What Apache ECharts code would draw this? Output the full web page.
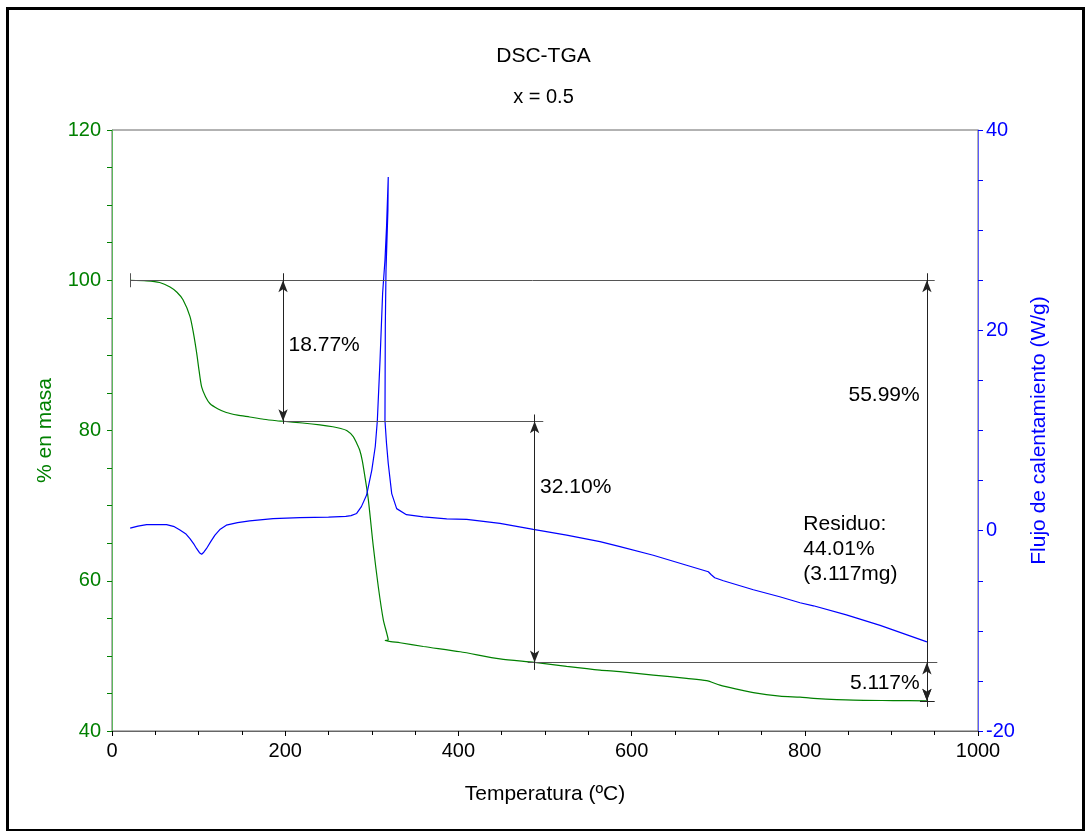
<!DOCTYPE html>
<html>
<head>
<meta charset="utf-8">
<title>DSC-TGA</title>
<script src="https://cdn.jsdelivr.net/npm/echarts@6/dist/echarts.min.js"></script>
<style>
  html, body { margin: 0; padding: 0; background: #ffffff; }
  #chart { width: 1087px; height: 831px; }
</style>
</head>
<body>
<div id="chart"></div>
<script>
// Thermogravimetric curve: temperature (ºC) and remaining mass (%)
const tgaTemp = [21, 40, 55, 67, 75, 82, 90, 94, 97.8, 100.5, 103.5, 108, 113, 122, 132, 145, 159, 175, 190, 197.5,
  220, 240, 255, 263, 271, 278.6, 282.6, 286, 289, 292, 296, 301.7, 307.5, 313.3, 319, 315.5, 322, 332.6, 359.5,
  402, 448, 488, 525, 563.5, 586.6, 625, 663.5, 686.6, 702, 720, 740.6, 771, 794.5, 810, 856, 902, 941];
const tgaMass = [100, 99.92, 99.7, 99.1, 98.4, 97.4, 95.2, 93.0, 90.3, 88.0, 85.8, 84.5, 83.6, 82.9, 82.4, 82.05, 81.8, 81.5, 81.3, 81.23,
  81.0, 80.75, 80.5, 80.3, 80.0, 79.2, 78.3, 77.4, 76.0, 73.9, 70.8, 64.6, 59.2, 54.8, 52.1, 52.05, 51.9, 51.75, 51.25,
  50.55, 49.6, 49.13, 48.6, 48.1, 47.9, 47.45, 47.0, 46.7, 46.1, 45.6, 45.1, 44.65, 44.5, 44.35, 44.1, 44.05, 44.01];

// Heat flow curve: temperature (ºC) and heat flow (W/g)
const dscTemp = [21, 30, 40, 63, 72, 78, 85, 90, 95, 97.8, 101, 103.5, 106, 109, 114, 118.9, 125, 132, 145, 159, 186, 217,
  250, 270, 276, 282.5, 288, 294, 300, 304, 306.4, 309.5, 312.5, 315.2, 317, 319, 318.6, 316.4, 315.6, 315.2, 317, 319,
  323, 328.7, 340, 359.5, 386.5, 409.6, 448, 486.5, 525, 563.5, 586.6, 625, 663.5, 688.6, 692, 696, 706, 740.6, 771,
  794.5, 810, 848, 887, 941];
const dscFlow = [0.25, 0.45, 0.6, 0.6, 0.4, 0.1, -0.3, -0.8, -1.4, -1.8, -2.2, -2.35, -2.15, -1.8, -1.1, -0.45, 0.15, 0.55, 0.8, 0.98, 1.2, 1.3,
  1.35, 1.42, 1.5, 1.72, 2.4, 3.55, 6.05, 8.4, 11.0, 17.0, 23.7, 27.0, 30.3, 35.3, 32.0, 26.0, 20.4, 11.0, 8.7, 6.7,
  3.7, 2.2, 1.6, 1.38, 1.18, 1.12, 0.72, 0.12, -0.45, -1.1, -1.6, -2.45, -3.45, -4.1, -4.4, -4.7, -5.0, -5.9, -6.6,
  -7.2, -7.5, -8.4, -9.45, -11.1];

// Mass-loss steps (%) and the temperatures where they are measured
const lossStep1 = 18.77;
const lossStep2 = 32.10;
const lossTotal = 55.99;
const lossStep3 = 5.117;
const residueMg = 3.117;
const tStart = 21, tStep1 = 197.5, tStep2 = 488, tEnd = 941;

// Axis ranges and tick spacing
const xRange = [0, 1000, 200];
const massRange = [40, 120, 20];
const flowRange = [-20, 40, 20];

const level0 = 100;
const level1 = +(level0 - lossStep1).toFixed(2);   // 81.23
const level2 = +(level1 - lossStep2).toFixed(2);   // 49.13
const residue = +(level0 - lossTotal).toFixed(2);  // 44.01

const GREEN = '#008000', BLUE = '#0000ff', INK = '#222222', GUIDE = '#555555';
const FONT = 'Liberation Sans, Arial, sans-serif';
const TXT = 21;

const zip = (a, b) => a.map((v, i) => [v, b[i]]);

// plain guide segment
function seg(x1, y1, x2, y2, color) {
  return [
    { coord: [x1, y1], symbol: 'none', lineStyle: { color: color || GUIDE } },
    { coord: [x2, y2], symbol: 'none' }
  ];
}
// double-headed dimension arrow
function arrow(x, y1, y2) {
  return [
    { coord: [x, y1], symbol: 'arrow', symbolSize: [7, 12], lineStyle: { color: INK } },
    { coord: [x, y2], symbol: 'arrow', symbolSize: [7, 12] }
  ];
}
function note(x, y, text, pos) {
  return {
    coord: [x, y], symbol: 'circle', symbolSize: 1,
    itemStyle: { color: 'rgba(0,0,0,0)' },
    label: { show: true, formatter: text, position: pos, distance: 5,
             color: '#000', fontSize: TXT, fontFamily: FONT, lineHeight: 25, align: pos === 'left' ? 'right' : 'left' }
  };
}

const chart = echarts.init(document.getElementById('chart'), null, { renderer: 'canvas' });

chart.setOption({
  animation: false,
  backgroundColor: '#ffffff',
  textStyle: { fontFamily: FONT },
  title: {
    text: 'DSC-TGA',
    subtext: 'x = 0.5',
    left: 'center',
    top: 41,
    itemGap: 20,
    textStyle: { fontSize: TXT, fontWeight: 'normal', color: '#000', fontFamily: FONT, lineHeight: 21 },
    subtextStyle: { fontSize: 20, color: '#000', fontFamily: FONT, lineHeight: 21 }
  },
  graphic: [{
    type: 'rect', left: 5, top: 6, silent: true,
    shape: { width: 1076, height: 822 },
    style: { fill: 'none', stroke: '#000', lineWidth: 3 }
  }],
  grid: { left: 112, right: 109, top: 130, bottom: 100, show: true, borderColor: '#666', borderWidth: 1, backgroundColor: 'transparent' },
  xAxis: {
    type: 'value', min: xRange[0], max: xRange[1], interval: xRange[2],
    name: 'Temperatura (ºC)', nameLocation: 'middle', nameGap: 53,
    nameTextStyle: { color: '#000', fontSize: TXT, fontFamily: FONT },
    axisLine: { onZero: false, lineStyle: { color: '#666', width: 1 } },
    axisTick: { show: true, inside: false, length: 5, lineStyle: { color: '#000' } },
    minorTick: { show: true, splitNumber: 4, length: 4, lineStyle: { color: '#000' } },
    axisLabel: { color: '#000', fontSize: 20, margin: 10, fontFamily: FONT, formatter: v => String(v) },
    splitLine: { show: false }
  },
  yAxis: [{
    type: 'value', min: massRange[0], max: massRange[1], interval: massRange[2],
    position: 'left',
    name: '% en masa', nameLocation: 'middle', nameGap: 56, nameRotate: 90,
    nameTextStyle: { color: GREEN, fontSize: TXT, fontFamily: FONT },
    axisLine: { show: true, onZero: false, lineStyle: { color: '#5cb85c', width: 1 } },
    axisTick: { show: true, length: 5, lineStyle: { color: GREEN } },
    minorTick: { show: true, splitNumber: 4, length: 5, lineStyle: { color: GREEN } },
    axisLabel: { color: GREEN, fontSize: 20, margin: 11, fontFamily: FONT },
    splitLine: { show: false }
  }, {
    type: 'value', min: flowRange[0], max: flowRange[1], interval: flowRange[2],
    position: 'right',
    name: 'Flujo de calentamiento (W/g)', nameLocation: 'middle', nameGap: 51, nameRotate: 90,
    nameTextStyle: { color: BLUE, fontSize: TXT, fontFamily: FONT },
    axisLine: { show: true, onZero: false, lineStyle: { color: '#5b5bff', width: 1 } },
    axisTick: { show: true, length: 5, lineStyle: { color: BLUE } },
    minorTick: { show: true, splitNumber: 4, length: 5, lineStyle: { color: BLUE } },
    axisLabel: { color: BLUE, fontSize: 20, margin: 8, fontFamily: FONT },
    splitLine: { show: false }
  }],
  series: [{
    name: 'TGA', type: 'line', yAxisIndex: 0, xAxisIndex: 0,
    data: zip(tgaTemp, tgaMass),
    showSymbol: false, symbol: 'none', smooth: 0.25,
    lineStyle: { color: GREEN, width: 1.2 },
    z: 3,
    markLine: {
      silent: true, animation: false,
      symbol: ['none', 'none'],
      label: { show: false },
      emphasis: { disabled: true },
      lineStyle: { type: 'solid', width: 1 },
      data: [
        seg(tStart, level0, 950, level0),
        seg(tStart, level0 - 0.93, tStart, level0 + 0.93),
        seg(tStep1, level1, 498, level1),
        seg(480, level2, 953, level2),
        seg(933, residue, 950, residue, INK),
        seg(tStep1, level0 + 0.93, tStep1, level1 - 0.35, INK),
        seg(tStep2, level1 + 0.9, tStep2, level2 - 1.0, INK),
        seg(tEnd, level0 + 0.93, tEnd, residue - 0.8, INK),
        arrow(tStep1, level0, level1),
        arrow(tStep2, level1, level2),
        arrow(tEnd, level0, residue),
        arrow(tEnd, level2, +(level2 - lossStep3).toFixed(2))
      ]
    },
    markPoint: {
      silent: true, animation: false,
      data: [
        note(tStep1, 91.4, lossStep1.toFixed(2) + '%', 'right'),
        note(tStep2, 72.5, lossStep2.toFixed(2) + '%', 'right'),
        note(tEnd - 2, 84.7, lossTotal.toFixed(2) + '%', 'left'),
        note(tEnd - 2, 46.4, lossStep3.toFixed(3) + '%', 'left'),
        note(792, 64.2, 'Residuo:\n' + residue.toFixed(2) + '%\n(' + residueMg.toFixed(3) + 'mg)', 'right')
      ]
    }
  }, {
    name: 'DSC', type: 'line', yAxisIndex: 1, xAxisIndex: 0,
    data: zip(dscTemp, dscFlow),
    showSymbol: false, symbol: 'none', smooth: false,
    lineStyle: { color: BLUE, width: 1.2 },
    z: 4
  }]
});
</script>
</body>
</html>
